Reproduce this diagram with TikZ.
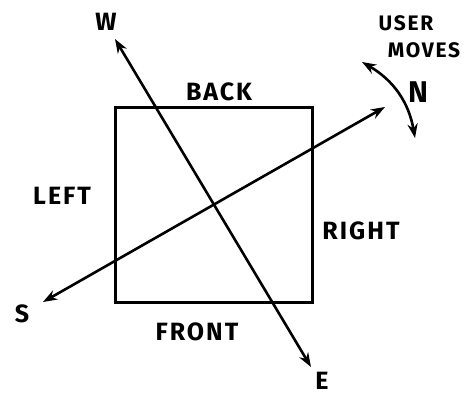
\documentclass[tikz,border=0pt]{standalone}
\usepackage{fontspec}
\setsansfont{Fira Sans}[LetterSpace=8]
\usetikzlibrary{arrows.meta}

\tikzset{
 arr/.style={{Stealth[length=5mm,width=3.6mm]}-{Stealth[length=5mm,width=3.6mm]}},
 lbl/.style={inner sep=0pt,font=\sffamily\bfseries\fontsize{25}{27}\selectfont},
 small/.style={lbl,font=\sffamily\bfseries\fontsize{21}{23}\selectfont},
}

\begin{document}
\begin{tikzpicture}[x=1pt,y=-1pt,line width=2.6pt]
 \useasboundingbox (0,0) rectangle (468,396);
 \node[draw,line width=3pt,minimum width=197pt,minimum height=195pt,inner sep=0pt](box)at(213.5,204.5){};
 % compass ends
 \coordinate (w) at (115,39);
 \coordinate (e) at (311,367);
 \coordinate (s) at (43,302);
 \coordinate (n) at (385,107);
 \draw[arr](e)--(w);
 \draw[arr](s)--(n);
 \node[lbl](lw)at(106,22){W};
 \node[lbl](le)at(322,381){E};
 \node[lbl](ls)at(22,314){S};
 \node[lbl,font=\sffamily\bfseries\fontsize{30}{32}\selectfont](ln)at(418,92){N};
 % sides
 \node[lbl](back)at(219,92){BACK};
 \node[lbl](front)at(197,332){FRONT};
 \node[lbl](left)at(62,196){LEFT};
 \node[lbl](right)at(361,231){RIGHT};
 % rotation
 \node[small](user)at(406,23){USER};
 \node[small](moves)at(424,50){MOVES};
 \coordinate (r1) at (362,62);
 \coordinate (r2) at (415,138);
 \draw[arr](r1)to[bend left=25](r2);
\end{tikzpicture}
\end{document}
